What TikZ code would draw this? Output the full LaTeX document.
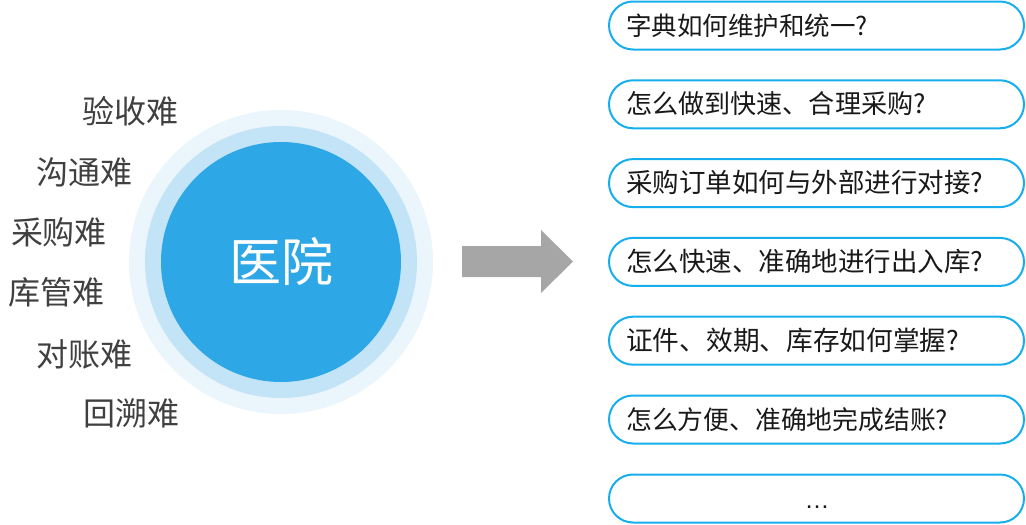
\documentclass[tikz,border=0pt]{standalone}
\usepackage{fontspec}
\setmainfont{Noto Sans CJK SC}
\newfontfamily\latinfont{Liberation Sans}
\definecolor{ringout}{RGB}{234,245,252}
\definecolor{ringmid}{RGB}{195,228,246}
\definecolor{core}{RGB}{46,167,230}
\definecolor{boxline}{RGB}{22,174,236}
\definecolor{lbl}{RGB}{64,64,64}
\definecolor{arrowgray}{RGB}{166,166,166}
\begin{document}
\begin{tikzpicture}[x=1pt,y=-1pt,
  ring/.style={circle,inner sep=0pt,draw=none},
  hard/.style={font=\fontsize{32}{32}\selectfont,text=lbl,inner sep=0pt},
  qbox/.style={draw=boxline,line width=2pt,rounded corners=24pt,minimum width=415pt,minimum height=48pt,inner sep=0pt},
  qtext/.style={text=black!90,inner sep=0pt,anchor=base west}]
\useasboundingbox (0,0) rectangle (1026,525);
% circles
\node[ring,fill=ringout,minimum size=304pt] (outer) at (281,262) {};
\node[ring,fill=ringmid,minimum size=272pt] (mid) at (281,262) {};
\node[ring,fill=core,minimum size=240pt,text=white,font=\fontsize{52}{52}\selectfont] (inner) at (281,262) {医院};
% labels
\node[hard] (l1) at (130.5,111) {验收难};
\node[hard] (l2) at (84.5,172) {沟通难};
\node[hard] (l3) at (59,232) {采购难};
\node[hard] (l4) at (57,292) {库管难};
\node[hard] (l5) at (84.5,354) {对账难};
\node[hard] (l6) at (131.5,413) {回溯难};
% arrow
\fill[arrowgray] (462,246) -- (541,246) -- (541,230) -- (573,261.5) -- (541,293) -- (541,277) -- (462,277) -- cycle;
% boxes
\foreach \i/\fs/\t [count=\n from 0] in {1/25.5/字典如何维护和统一?,2/26.1/怎么做到快速、合理采购?,3/26.5/采购订单如何与外部进行对接?,4/26.5/怎么快速、准确地进行出入库?,5/26.7/证件、效期、库存如何掌握?,6/25.8/怎么方便、准确地完成结账?}{
  \node[qbox] (box\i) at (816.5,25.5+78.8*\n) {};
  \node[qtext,font=\fontsize{\fs}{\fs}\selectfont] (txt\i) at (626,25.5+78.8*\n+9.5) {\t};
}
\node[qbox] (box7) at (816.5,498.5) {};
\node[qtext,anchor=base,font=\latinfont\fontsize{25}{25}\selectfont] (txt7) at (817,508) {…};
\end{tikzpicture}
\end{document}
